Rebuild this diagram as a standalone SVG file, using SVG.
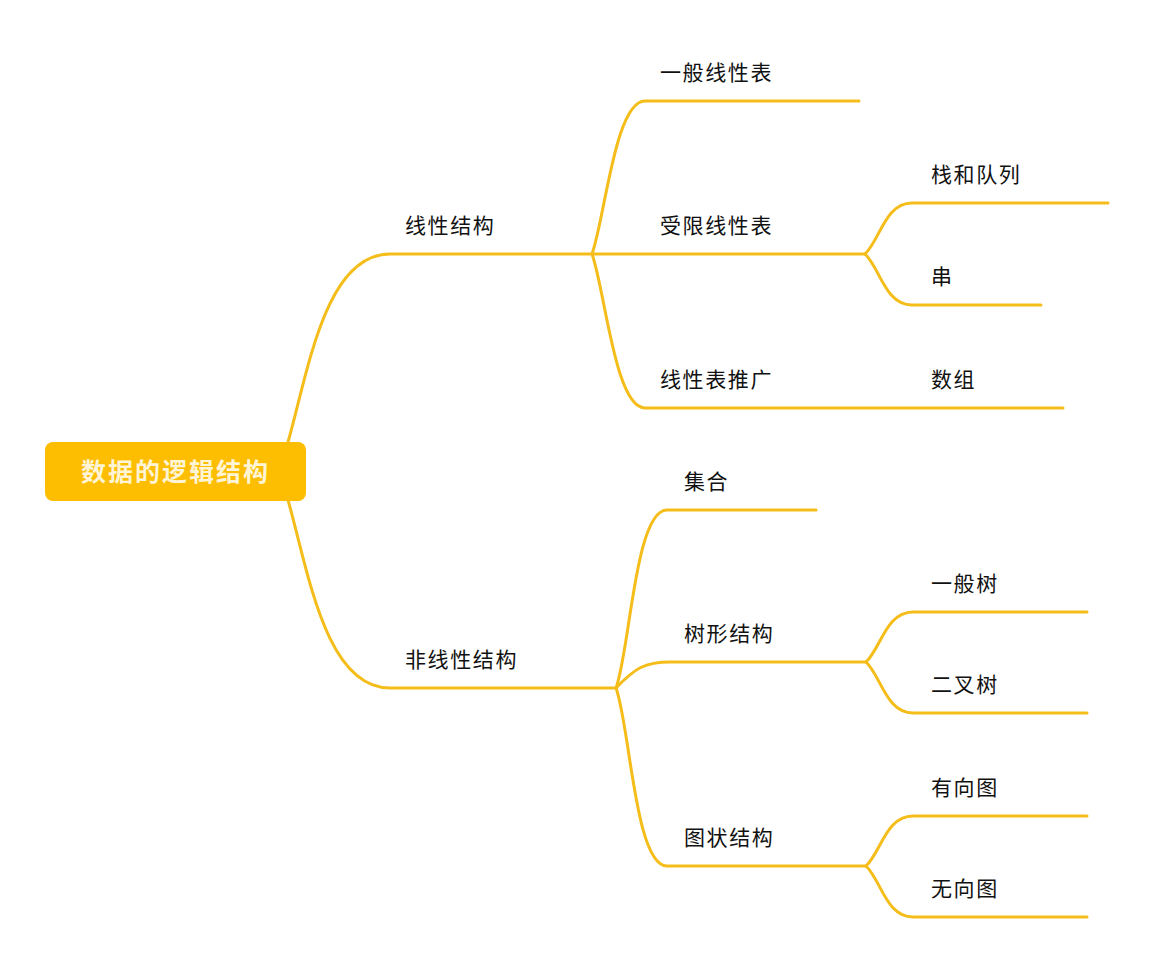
<svg xmlns="http://www.w3.org/2000/svg" width="1155" height="964" viewBox="0 0 1155 964">
<style>
.e{fill:none;stroke:#F5BD1A;stroke-width:3;stroke-linecap:round;stroke-linejoin:round}
.t{font-family:"Noto Sans CJK SC","Noto Sans",sans-serif;font-size:21px;letter-spacing:1.6px;fill:#111}
.r{font-family:"Noto Sans CJK SC","Noto Sans",sans-serif;font-size:25px;font-weight:bold;letter-spacing:2px;fill:#FFF4D4}
</style>
<rect width="1155" height="964" fill="#ffffff"/>
<g id="connectors">
<path class="e" d="M288 442 C308 372 325 254 390 254 L592 254"/>
<path class="e" d="M288 500 C308 570 325 688 390 688 L616 688"/>
<path class="e" d="M592 254 C605 218 615 101 645 101 L859 101"/>
<path class="e" d="M592 254 L865 254"/>
<path class="e" d="M592 254 C605 290 615 408 645 408 L1063 408"/>
<path class="e" d="M865 254 C880 240 885 203 912 203 L1108 203"/>
<path class="e" d="M865 254 C880 268 885 305 912 305 L1041 305"/>
<path class="e" d="M616 688 C630 650 635 510 667 510 L816 510"/>
<path class="e" d="M616 688 C635 668 645 662 670 662 L866 662"/>
<path class="e" d="M616 688 C630 726 635 866 667 866 L866 866"/>
<path class="e" d="M866 662 C881 648 886 612 913 612 L1087 612"/>
<path class="e" d="M866 662 C881 676 886 713 913 713 L1087 713"/>
<path class="e" d="M866 866 C881 852 886 816 913 816 L1087 816"/>
<path class="e" d="M866 866 C881 880 886 917 913 917 L1087 917"/>
</g>
<g id="root"><rect x="45" y="442" width="261" height="59" rx="8" fill="#FDBD00"/><text class="r" x="81" y="481">数据的逻辑结构</text></g>
<g id="n-linear"><text class="t" x="405" y="233">线性结构</text></g>
<g id="n-nonlinear"><text class="t" x="405" y="667">非线性结构</text></g>
<g id="n-general-list"><text class="t" x="660" y="80">一般线性表</text></g>
<g id="n-restricted-list"><text class="t" x="660" y="233">受限线性表</text></g>
<g id="n-list-ext"><text class="t" x="660" y="387">线性表推广</text></g>
<g id="n-stack-queue"><text class="t" x="931" y="182">栈和队列</text></g>
<g id="n-string"><text class="t" x="931" y="284">串</text></g>
<g id="n-array"><text class="t" x="931" y="387">数组</text></g>
<g id="n-set"><text class="t" x="684" y="489">集合</text></g>
<g id="n-tree"><text class="t" x="684" y="641">树形结构</text></g>
<g id="n-graph"><text class="t" x="684" y="845">图状结构</text></g>
<g id="n-general-tree"><text class="t" x="931" y="591">一般树</text></g>
<g id="n-binary-tree"><text class="t" x="931" y="692">二叉树</text></g>
<g id="n-directed"><text class="t" x="931" y="795">有向图</text></g>
<g id="n-undirected"><text class="t" x="931" y="896">无向图</text></g>
</svg>
